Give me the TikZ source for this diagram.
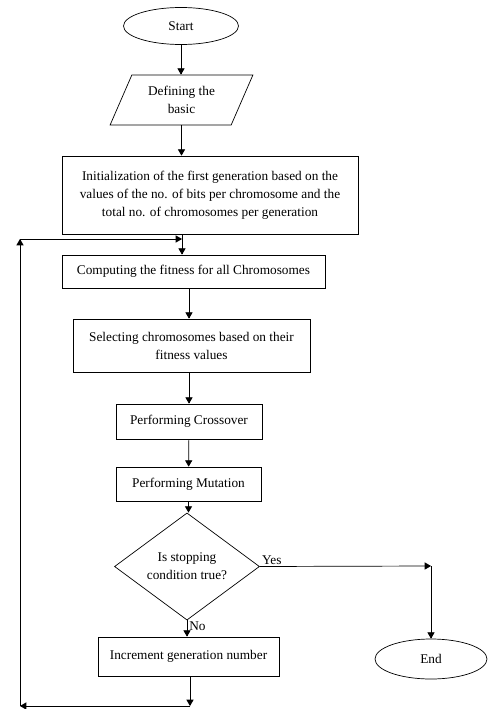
\documentclass[tikz,border=0pt]{standalone}
\usepackage{fontspec}
\setmainfont{Liberation Serif}
\usetikzlibrary{arrows,shapes.geometric}

\tikzset{
  box/.style={draw, rectangle, inner sep=0pt, align=center},
  term/.style={draw, ellipse, inner sep=0pt},
  inout/.style={draw, trapezium, trapezium left angle=62, trapezium right angle=118,
                trapezium stretches=true, inner sep=0pt, align=center},
  decision/.style={draw, diamond, inner sep=0pt, align=center},
  flow/.style={->, >=triangle 60},
}

\begin{document}
\begin{tikzpicture}[x=1pt,y=-1pt,line width=0.7pt,font=\fontsize{13.3}{18}\selectfont]
    \useasboundingbox (0,0) rectangle (488,709);

    % the chain of steps
    \node[term, minimum width=115, minimum height=37] (start) at (181,26) {Start};
    \node[inout, minimum width=143, minimum height=50] (basic) at (181.5,100) {Defining the\\basic};
    \node[box, minimum width=296, minimum height=78] (init) at (210,195)
      {Initialization of the first generation based on the\\values of the no. of bits per chromosome and the\\total no. of chromosomes per generation};
    \node[box, minimum width=263, minimum height=33] (comp) at (193.5,271.5) {Computing the fitness for all Chromosomes};
    \node[box, minimum width=237, minimum height=53] (sel) at (191.5,345.5) {Selecting chromosomes based on their\\fitness values};
    \node[box, minimum width=146, minimum height=35] (cross) at (189,421.5) {Performing Crossover};
    \node[box, minimum width=145, minimum height=34] (mut) at (188.5,484) {Performing Mutation};
    \node[decision, minimum width=145, minimum height=81] (stop) at (187,566.5) {Is stopping\\condition true?};
    \node[box, minimum width=181, minimum height=39] (incr) at (188.5,656.5) {Increment generation number};
    \node[term, minimum width=112, minimum height=40] (end) at (431,659) {End};

    % corners of the loop and of the exit
    \coordinate (join) at (182,239);
    \coordinate (drop) at (190,706);
    \coordinate (low) at (20,706);
    \coordinate (high) at (20,239);
    \coordinate (turn) at (431,566);

    \draw[flow] (start) -- (start |- basic.north);
    \draw[flow] (basic.south) -- (basic.south |- init.north);
    \draw[flow] (init.south -| join) -- (comp.north -| join);
    \draw[flow] (comp.south -| cross) -- (sel.north -| cross);
    \draw[flow] (sel.south -| cross) -- (cross.north);
    \draw[flow] (cross) -- (mut);
    \draw[flow] (mut.south) -- (mut.south |- stop.north);
    \draw[flow] (stop.south) -- (stop.south |- incr.north)
      node[pos=0.35, right, inner sep=2pt] {No};

    % back to the fitness step
    \draw[flow] (incr.south -| drop) -- (drop);
    \draw[flow] (drop) -- (low);
    \draw[flow] (low) -- (high);
    \draw[flow] (high) -- (join);

    % way out
    \draw[flow] (stop.east) node[above right, inner sep=2pt] {Yes} -- (turn);
    \draw[flow] (turn) -- (turn |- end.north);
\end{tikzpicture}
\end{document}
